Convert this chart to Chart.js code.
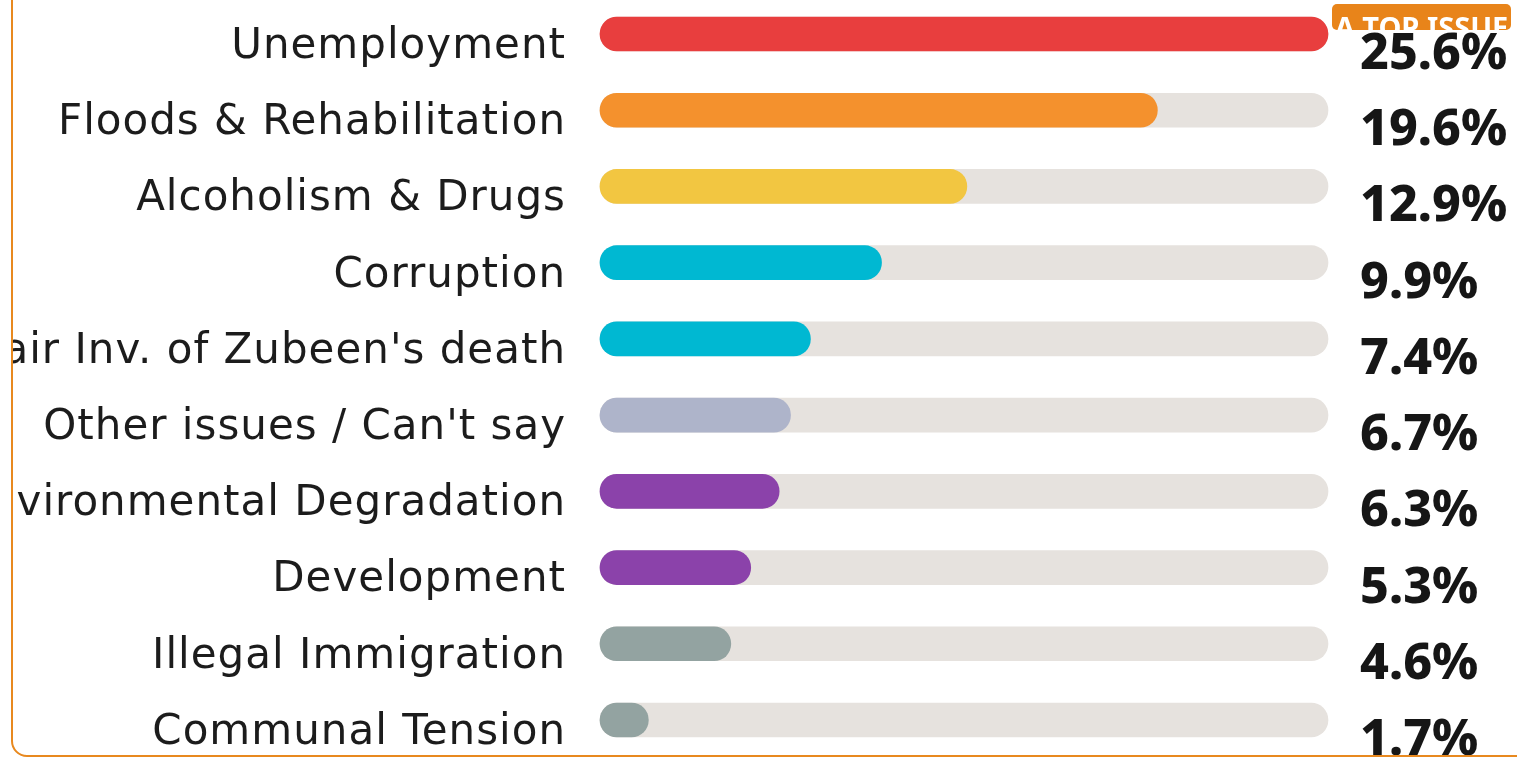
<!DOCTYPE html>
<html>
<head>
<meta charset="utf-8">
<script src="https://cdn.jsdelivr.net/npm/chart.js@4"></script>
<style>
  html, body { margin: 0; padding: 0; background: #fff; overflow: hidden; }
  #card {
    position: absolute; left: 11px; top: -20px;
    width: 1700px; height: 773px;
    border: 2px solid #E8891F; border-radius: 16px;
    overflow: hidden; background: #fff;
  }
  #wrap { position: absolute; left: 0; top: 20px; width: 1504px; height: 757px; }
</style>
</head>
<body>
<div id="card"><div id="wrap"><canvas id="chart"></canvas></div></div>
<script>
const issues = [
  'Unemployment',
  'Floods & Rehabilitation',
  'Alcoholism & Drugs',
  'Corruption',
  "Fair Inv. of Zubeen's death",
  "Other issues / Can't say",
  'Environmental Degradation',
  'Development',
  'Illegal Immigration',
  'Communal Tension'
];
const shares = [25.6, 19.6, 12.9, 9.9, 7.4, 6.7, 6.3, 5.3, 4.6, 1.7];
const barColors = [
  '#E83E3E', '#F4912D', '#F2C641', '#00B8D2', '#00B8D2',
  '#AEB4CA', '#8B42AA', '#8B42AA', '#93A3A1', '#93A3A1'
];
const topMax = 25.6;
const badgeText = 'A TOP ISSUE';

// a little extra spacing for the category labels only
const spacing = {
  id: 'spacing',
  beforeDraw(chart) { chart.ctx.letterSpacing = '1px'; },
  beforeDatasetsDraw(chart) { chart.ctx.letterSpacing = '0px'; }
};

const valueLabels = {
  id: 'valueLabels',
  afterDatasetsDraw(chart) {
    const { ctx } = chart;
    const meta = chart.getDatasetMeta(1);
    const xText = chart.chartArea.right + 32;
    ctx.save();
    // badge
    const bx = chart.chartArea.right + 4, by = 2, bw = 179, bh = 26;
    ctx.beginPath();
    ctx.roundRect(bx, by, bw, bh, 5);
    ctx.fillStyle = '#E8841A';
    ctx.fill();
    ctx.clip();
    ctx.fillStyle = '#fff';
    ctx.font = 'bold 29px "Noto Sans"';
    ctx.textAlign = 'center';
    ctx.textBaseline = 'alphabetic';
    ctx.fillText(badgeText, bx + bw / 2, 36);
    ctx.restore();

    ctx.save();
    ctx.fillStyle = '#161616';
    ctx.font = '800 50px "Noto Sans"';
    ctx.textAlign = 'left';
    ctx.textBaseline = 'alphabetic';
    meta.data.forEach((bar, i) => {
      ctx.fillText(shares[i].toFixed(1) + '%', xText, bar.y + 35);
    });
    ctx.restore();
  }
};

const ctx = document.getElementById('chart').getContext('2d');
new Chart(ctx, {
  type: 'bar',
  data: {
    labels: issues,
    datasets: [
      {
        data: issues.map(() => topMax),
        backgroundColor: '#E6E2DE',
        borderRadius: 17,
        borderSkipped: false,
        barThickness: 34,
        grouped: false,
        clip: false,
        order: 2
      },
      {
        data: shares,
        backgroundColor: barColors,
        borderRadius: 17,
        borderSkipped: false,
        barThickness: 34,
        grouped: false,
        clip: false,
        order: 1
      }
    ]
  },
  options: {
    indexAxis: 'y',
    responsive: true,
    maintainAspectRatio: false,
    animation: false,
    layout: { padding: { top: 32, bottom: 39, right: 189, left: 0 } },
    plugins: { legend: { display: false }, tooltip: { enabled: false } },
    scales: {
      x: { display: false, min: 0, max: topMax },
      y: {
        offset: false,
        grid: { display: false, drawTicks: false },
        border: { display: false },
        ticks: {
          color: '#1c1c1c',
          font: { family: 'DejaVu Sans', size: 42 },
          padding: 34,
          labelOffset: 13,
          autoSkip: false
        },
        afterFit(scale) {
          scale.width = 587;
          scale.paddingTop = 0;
          scale.paddingBottom = 0;
        }
      }
    }
  },
  plugins: [spacing, valueLabels]
});
</script>
</body>
</html>
